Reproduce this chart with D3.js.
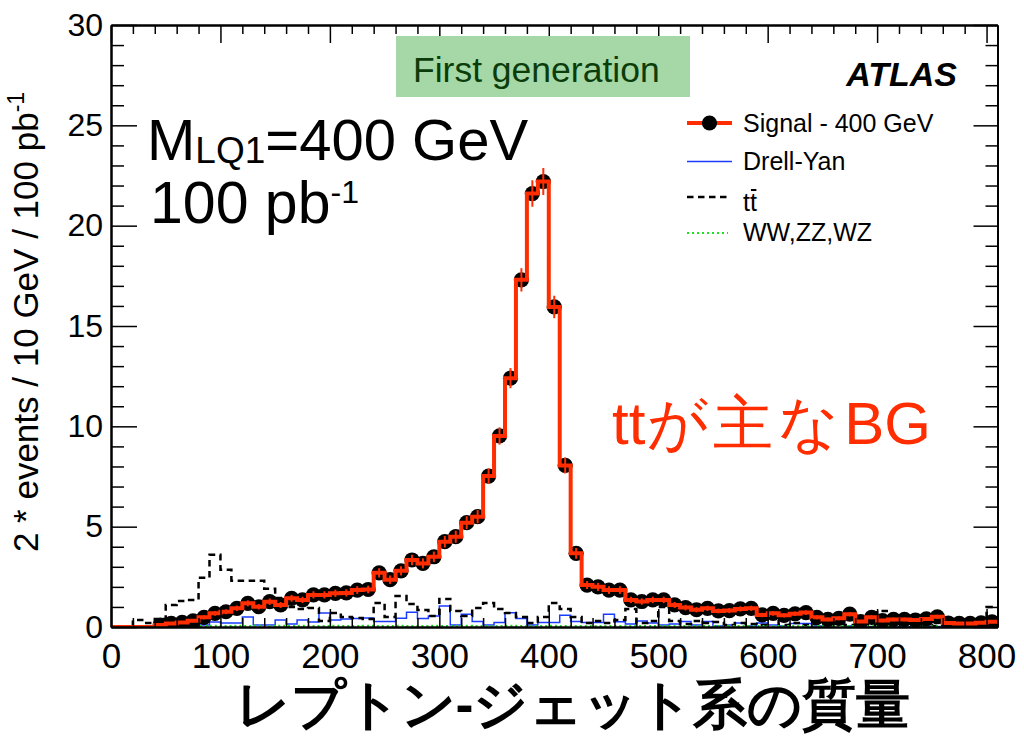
<!DOCTYPE html>
<html>
<head>
<meta charset="utf-8">
<script src="https://cdn.jsdelivr.net/npm/d3@7"></script>
<style>
  html, body { margin: 0; padding: 0; background: #fff; }
  svg { display: block; }
  text { font-family: "Liberation Sans", Arial, Helvetica, sans-serif; }
</style>
</head>
<body>
<svg id="chart" width="1024" height="736"></svg>
<script>
// ---- histogram binning (10 GeV bins, 0 .. 810 GeV) ----
const binWidth = 10;
const massMax = 810;

// Signal, M_LQ1 = 400 GeV (2 * events / 10 GeV / 100 pb^-1), one value per bin
const signalValues = [
  0, 0, 0, 0, 0.10, 0.18, 0.23, 0.31, 0.48, 0.68,
  0.76, 0.93, 1.18, 1.01, 1.26, 1.10, 1.43, 1.35, 1.60, 1.60,
  1.68, 1.70, 1.84, 1.87, 2.70, 2.36, 2.80, 3.34, 3.17, 3.50,
  4.25, 4.50, 5.20, 5.50, 7.52, 9.52, 12.40, 17.30, 21.60, 22.20,
  15.95, 8.05, 3.67, 2.09, 2.00, 1.84, 1.84, 1.35, 1.27, 1.35,
  1.35, 1.10, 0.97, 0.86, 0.93, 0.80, 0.82, 0.90, 0.93, 0.60,
  0.68, 0.58, 0.66, 0.72, 0.48, 0.38, 0.43, 0.64, 0.27, 0.48,
  0.32, 0.38, 0.38, 0.35, 0.40, 0.51, 0.20, 0.18, 0.18, 0.21,
  0.26
];
// statistical error on each signal bin
const signalErrors = [
  0, 0, 0, 0, 0.05, 0.06, 0.07, 0.08, 0.10, 0.12,
  0.12, 0.14, 0.15, 0.14, 0.16, 0.15, 0.17, 0.16, 0.18, 0.18,
  0.18, 0.18, 0.19, 0.19, 0.23, 0.21, 0.23, 0.26, 0.25, 0.26,
  0.29, 0.30, 0.32, 0.33, 0.38, 0.43, 0.50, 0.58, 0.66, 0.67,
  0.56, 0.40, 0.27, 0.20, 0.20, 0.19, 0.19, 0.16, 0.16, 0.16,
  0.16, 0.15, 0.14, 0.13, 0.13, 0.12, 0.13, 0.13, 0.13, 0.11,
  0.12, 0.11, 0.11, 0.12, 0.10, 0.09, 0.09, 0.11, 0.07, 0.10,
  0.08, 0.09, 0.09, 0.08, 0.09, 0.10, 0.06, 0.06, 0.06, 0.06,
  0.07
];
// Drell-Yan background
const drellYanValues = [
  0, 0, 0, 0, 0, 0, 0, 0.05, 0.10, 0.25,
  0.20, 0.20, 0.50, 0.10, 0.10, 0.35, 0.15, 0.35, 0.25, 0.70,
  0.35, 0.40, 0.42, 0.45, 0.27, 0.27, 0.43, 0.73, 0.42, 0.55,
  1.05, 0.10, 0.63, 0.27, 0.10, 0.23, 0.71, 0.42, 0.10, 0.23,
  0.23, 0.58, 0.27, 0.22, 0.22, 0.63, 0.26, 0.15, 0.30, 0.20,
  0.10, 0.15, 0.27, 0.10, 0.27, 0.05, 0.10, 0.20, 0.05, 0.20,
  0.10, 0.05, 0.18, 0.18, 0.05, 0.05, 0.15, 0.05, 0.03, 0.03,
  0.02, 0.02, 0.03, 0.02, 0.02, 0.02, 0.01, 0.01, 0.01, 0.01,
  0
];
// t-tbar background
const ttbarValues = [
  0, 0, 0.35, 0.20, 0.40, 1.10, 1.30, 1.35, 2.45, 3.60,
  2.85, 2.30, 2.30, 2.30, 1.90, 1.45, 1.00, 0.90, 0.95, 0.30,
  0.70, 0.50, 0.45, 0.40, 1.20, 0.50, 1.55, 1.15, 0.85, 0.55,
  1.40, 0.80, 0.55, 0.95, 1.20, 0.90, 0.70, 0.50, 0.20, 0.50,
  1.20, 0.90, 0.50, 0.20, 0.30, 0.20, 0.35, 0.90, 0.20, 0.30,
  1.00, 0.30, 0.15, 0.30, 0.20, 0.25, 0.10, 0.20, 0.15, 0.10,
  0.60, 0.10, 0.20, 0.10, 0.15, 0.10, 0.20, 0.10, 0.10, 0.10,
  0.80, 0.10, 0.10, 0.05, 0.10, 0.05, 0.05, 0.10, 0.05, 0.05,
  1.00
];
// WW, ZZ, WZ background
const dibosonValues = [
  0, 0, 0, 0, 0, 0, 0, 0, 0.05, 0.06,
  0.05, 0.06, 0.05, 0.07, 0.05, 0.06, 0.05, 0.06, 0.05, 0.05,
  0.06, 0.05, 0.05, 0.06, 0.05, 0.05, 0.06, 0.05, 0.05, 0.06,
  0.05, 0.05, 0.06, 0.05, 0.05, 0.05, 0.06, 0.05, 0.05, 0.05,
  0.06, 0.05, 0.05, 0.05, 0.04, 0.05, 0.05, 0.04, 0.05, 0.05,
  0.04, 0.05, 0.04, 0.05, 0.04, 0.04, 0.05, 0.04, 0.04, 0.04,
  0.05, 0.04, 0.04, 0.04, 0.04, 0.04, 0.03, 0.04, 0.04, 0.03,
  0.04, 0.03, 0.03, 0.04, 0.03, 0.03, 0.03, 0.03, 0.03, 0.03,
  0.03
];

// axis ticks and labels
const xMajorTicks = [0, 100, 200, 300, 400, 500, 600, 700, 800];
const xTickLabels = ["0", "100", "200", "300", "400", "500", "600", "700", "800"];
const yMajorTicks = [0, 5, 10, 15, 20, 25, 30];
const yTickLabels = ["0", "5", "10", "15", "20", "25", "30"];

const legendLabels = ["Signal - 400 GeV", "Drell-Yan", "tt", "WW,ZZ,WZ"];

// ---- colours ----
const RED = "#ff2d00";
const BLUE = "#1a3cff";
const GREEN = "#1fe01f";

// ---- layout ----
const svg = d3.select("#chart");
const x = d3.scaleLinear().domain([0, massMax]).range([111, 997.5]);
const y = d3.scaleLinear().domain([0, 30]).range([627, 25]);

const defs = svg.append("defs");
defs.append("clipPath").attr("id", "plotClip")
  .append("rect")
  .attr("x", x(0)).attr("y", y(30))
  .attr("width", x(massMax) - x(0)).attr("height", y(0) - y(30));

// step outline of a histogram
function stepPoints(values) {
  const pts = values.map((v, i) => [i * binWidth, v]);
  pts.push([values.length * binWidth, values[values.length - 1]]);
  return pts;
}
const stepLine = d3.line()
  .x(d => x(d[0]))
  .y(d => y(d[1]))
  .curve(d3.curveStepAfter);

const plot = svg.append("g").attr("clip-path", "url(#plotClip)");

// backgrounds
plot.append("path")
  .attr("d", stepLine(stepPoints(drellYanValues)))
  .attr("fill", "none").attr("stroke", BLUE).attr("stroke-width", 1.5);

plot.append("path")
  .attr("d", stepLine(stepPoints(ttbarValues)))
  .attr("fill", "none").attr("stroke", "#000").attr("stroke-width", 2.5)
  .attr("stroke-dasharray", "6.5,4.5");

plot.append("path")
  .attr("d", stepLine(stepPoints(dibosonValues)))
  .attr("fill", "none").attr("stroke", GREEN).attr("stroke-width", 2.2)
  .attr("stroke-dasharray", "2,3");

// signal markers, error bars and outline
const signalBins = signalValues
  .map((v, i) => ({ c: i * binWidth + binWidth / 2, v, e: signalErrors[i] }))
  .filter(d => d.v > 0);

plot.append("g").selectAll("circle")
  .data(signalBins).join("circle")
  .attr("cx", d => x(d.c)).attr("cy", d => y(d.v)).attr("r", 7.6)
  .attr("fill", "#000");

plot.append("g").selectAll("line")
  .data(signalBins).join("line")
  .attr("x1", d => x(d.c)).attr("x2", d => x(d.c))
  .attr("y1", d => y(d.v - d.e)).attr("y2", d => y(d.v + d.e))
  .attr("stroke", RED).attr("stroke-width", 2);

plot.append("path")
  .attr("d", stepLine(stepPoints(signalValues)))
  .attr("fill", "none").attr("stroke", RED).attr("stroke-width", 4)
  .attr("stroke-linejoin", "miter");

// ---- axes (ticks pointing inward on all four sides) ----
function styleAxis(g, fontSize) {
  g.selectAll(".tick line").attr("stroke", "#000").attr("stroke-width", 1.5);
  g.select(".domain").attr("stroke", "#000").attr("stroke-width", 2);
  g.selectAll("text").attr("fill", "#000").attr("font-size", fontSize)
    .attr("font-family", "'Liberation Sans', Arial, Helvetica, sans-serif");
}
const xMinorTicks = d3.range(0, massMax + 1, 20).filter(v => v % 100 !== 0);
const yMinorTicks = d3.range(0, 31, 1).filter(v => v % 5 !== 0);

// bottom
const gxb = svg.append("g").attr("transform", `translate(0,${y(0)})`);
gxb.append("g").call(d3.axisBottom(x).tickValues(xMinorTicks).tickFormat("")
  .tickSizeInner(-9).tickSizeOuter(0)).call(g => styleAxis(g, 33));
gxb.append("g").call(d3.axisBottom(x).tickValues(xMajorTicks)
  .tickFormat((d, i) => xTickLabels[i]).tickSizeInner(-18).tickSizeOuter(0).tickPadding(16))
  .call(g => styleAxis(g, 35));

// top
const gxt = svg.append("g").attr("transform", `translate(0,${y(30)})`);
gxt.append("g").call(d3.axisTop(x).tickValues(xMinorTicks).tickFormat("")
  .tickSizeInner(-9).tickSizeOuter(0)).call(g => styleAxis(g, 10));
gxt.append("g").call(d3.axisTop(x).tickValues(xMajorTicks).tickFormat("")
  .tickSizeInner(-18).tickSizeOuter(0)).call(g => styleAxis(g, 10));

// left
const gyl = svg.append("g").attr("transform", `translate(${x(0)},0)`);
gyl.append("g").call(d3.axisLeft(y).tickValues(yMinorTicks).tickFormat("")
  .tickSizeInner(-13).tickSizeOuter(0)).call(g => styleAxis(g, 10));
gyl.append("g").call(d3.axisLeft(y).tickValues(yMajorTicks)
  .tickFormat((d, i) => yTickLabels[i]).tickSizeInner(-26).tickSizeOuter(0).tickPadding(8))
  .call(g => styleAxis(g, 32));

// right
const gyr = svg.append("g").attr("transform", `translate(${x(massMax)},0)`);
gyr.append("g").call(d3.axisRight(y).tickValues(yMinorTicks).tickFormat("")
  .tickSizeInner(-12).tickSizeOuter(0)).call(g => styleAxis(g, 10));
gyr.append("g").call(d3.axisRight(y).tickValues(yMajorTicks).tickFormat("")
  .tickSizeInner(-24).tickSizeOuter(0)).call(g => styleAxis(g, 10));

// ---- axis titles ----
const yTitle = svg.append("text")
  .attr("transform", "translate(38,322) rotate(-90)")
  .attr("text-anchor", "middle")
  .attr("font-size", 35).attr("fill", "#000");
yTitle.append("tspan").text("2 * events / 10 GeV / 100 pb");
yTitle.append("tspan").attr("font-size", 23).attr("dy", -14).text("-1");

svg.append("text")
  .attr("x", 573).attr("y", 723)
  .attr("text-anchor", "middle")
  .attr("font-family", "'Noto Sans CJK JP', sans-serif")
  .attr("font-weight", 900)
  .attr("font-size", 54).attr("fill", "#000")
  .text("レプトン-ジェット系の質量");

// ---- annotations ----
svg.append("rect")
  .attr("x", 396).attr("y", 36).attr("width", 294).attr("height", 61)
  .attr("fill", "#a5d8a6");
svg.append("text")
  .attr("x", 413).attr("y", 82)
  .attr("font-size", 35.5).attr("fill", "#0b3d0b")
  .text("First generation");

svg.append("text")
  .attr("x", 957).attr("y", 86).attr("text-anchor", "end")
  .attr("font-size", 34).attr("font-weight", 700).attr("font-style", "italic")
  .attr("fill", "#000").text("ATLAS");

const mText = svg.append("text")
  .attr("x", 147).attr("y", 160).attr("font-size", 58).attr("fill", "#000");
mText.append("tspan").text("M");
mText.append("tspan").attr("font-size", 37).attr("dy", 3).text("LQ1");
mText.append("tspan").attr("dy", -3).text("=400 GeV");

const lumiText = svg.append("text")
  .attr("x", 150).attr("y", 223).attr("font-size", 59).attr("fill", "#000");
lumiText.append("tspan").text("100 pb");
lumiText.append("tspan").attr("font-size", 32).attr("dy", -20).text("-1");

const bgNote = svg.append("text")
  .attr("x", 612).attr("y", 444)
  .attr("font-family", "'Noto Sans CJK JP', sans-serif")
  .attr("font-size", 60).attr("fill", RED);
bgNote.append("tspan").attr("font-family", "'Liberation Sans', Arial, sans-serif").text("tt");
bgNote.append("tspan").attr("dx", 2).attr("letter-spacing", 5).text("が主な");
bgNote.append("tspan").attr("font-family", "'Liberation Sans', Arial, sans-serif").text("BG");

// ---- legend ----
const lgX0 = 687, lgX1 = 732, lgText = 743;
const lgRows = [123, 161.5, 197, 233];
const legend = svg.append("g");

legend.append("line").attr("x1", lgX0).attr("x2", lgX1).attr("y1", lgRows[0]).attr("y2", lgRows[0])
  .attr("stroke", RED).attr("stroke-width", 4);
legend.append("circle").attr("cx", (lgX0 + lgX1) / 2).attr("cy", lgRows[0]).attr("r", 7.6).attr("fill", "#000");

legend.append("line").attr("x1", lgX0).attr("x2", lgX1).attr("y1", lgRows[1]).attr("y2", lgRows[1])
  .attr("stroke", BLUE).attr("stroke-width", 1.5);

legend.append("line").attr("x1", lgX0).attr("x2", lgX1 - 4).attr("y1", lgRows[2]).attr("y2", lgRows[2])
  .attr("stroke", "#000").attr("stroke-width", 2.5).attr("stroke-dasharray", "6.5,4.5");

legend.append("line").attr("x1", lgX0).attr("x2", lgX1 - 4).attr("y1", lgRows[3]).attr("y2", lgRows[3])
  .attr("stroke", GREEN).attr("stroke-width", 2.2).attr("stroke-dasharray", "2,3");

const lgBaselines = [131.5, 170, 211, 240.5];
legendLabels.forEach((lab, i) => {
  const t = legend.append("text")
    .attr("x", lgText).attr("y", lgBaselines[i])
    .attr("font-size", 25).attr("fill", "#000").text(lab);
  if (i === 2) {
    // bar over the second t of t-tbar
    const w = t.node().getComputedTextLength();
    legend.append("line")
      .attr("x1", lgText + w / 2 + 1).attr("x2", lgText + w - 0.5)
      .attr("y1", lgBaselines[i] - 21).attr("y2", lgBaselines[i] - 21)
      .attr("stroke", "#000").attr("stroke-width", 2);
  }
});
</script>
</body>
</html>
